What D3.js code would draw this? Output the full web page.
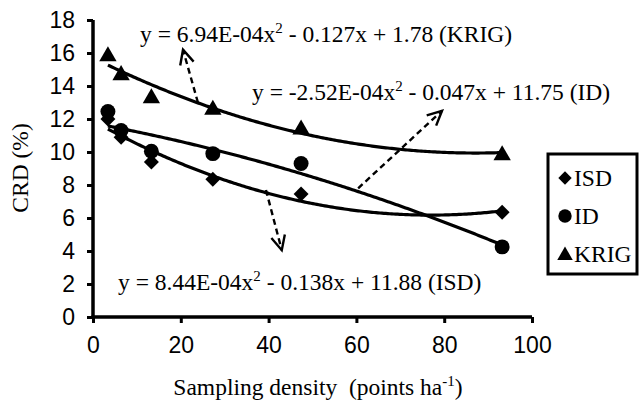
<!DOCTYPE html>
<html>
<head>
<meta charset="utf-8">
<script src="https://cdn.jsdelivr.net/npm/d3@7"></script>
<style>
  html, body { margin: 0; padding: 0; background: #fff; }
  svg { display: block; }
</style>
</head>
<body>
<svg id="chart" width="639" height="406"></svg>
<script>
// Sampling densities (points per hectare)
const density = [3.4, 6.4, 13.3, 27.3, 47.4, 93.2];
// CRD (%) for each interpolation method
const isd  = [12.0, 10.9, 9.4, 8.35, 7.45, 6.35];
const id   = [12.45, 11.3, 10.05, 9.9, 9.3, 4.25];
const krig = [15.9, 14.75, 13.35, 12.65, 11.45, 9.9];

const seriesNames = ["ISD", "ID", "KRIG"];
const xTicks = [0, 20, 40, 60, 80, 100];
const yTicks = [0, 2, 4, 6, 8, 10, 12, 14, 16, 18];

// Trendline equations shown on the chart
const eqKrig = ["y = 6.94E-04x", "2", " - 0.127x + 1.78 (KRIG)"];
const eqId   = ["y = -2.52E-04x", "2", " - 0.047x + 11.75 (ID)"];
const eqIsd  = ["y = 8.44E-04x", "2", " - 0.138x + 11.88 (ISD)"];

const svg = d3.select("#chart");
const x = d3.scaleLinear().domain([0, 100]).range([93, 532]);
const y = d3.scaleLinear().domain([0, 18]).range([317, 20]);

const sans = "'Liberation Sans', Arial, sans-serif";
const serif = "'Liberation Serif', 'Times New Roman', serif";
const textSize = 23.5;

// Least-squares quadratic fit y = a x^2 + b x + c
function quadFit(xs, ys) {
  let s = [0, 0, 0, 0, 0], t = [0, 0, 0];
  xs.forEach((xv, i) => {
    for (let k = 0; k < 5; k++) s[k] += Math.pow(xv, k);
    for (let k = 0; k < 3; k++) t[k] += ys[i] * Math.pow(xv, k);
  });
  const M = [[s[0], s[1], s[2], t[0]], [s[1], s[2], s[3], t[1]], [s[2], s[3], s[4], t[2]]];
  for (let i = 0; i < 3; i++) {
    for (let j = i + 1; j < 3; j++) {
      const f = M[j][i] / M[i][i];
      for (let k = i; k < 4; k++) M[j][k] -= f * M[i][k];
    }
  }
  const r = [0, 0, 0];
  for (let i = 2; i >= 0; i--) {
    let v = M[i][3];
    for (let k = i + 1; k < 3; k++) v -= M[i][k] * r[k];
    r[i] = v / M[i][i];
  }
  return xv => r[0] + r[1] * xv + r[2] * xv * xv;
}

// Marker shapes: diamond is a square turned 45 degrees
const shapes = {
  ISD:  { type: d3.symbolSquare, size: 112, rotate: 45, dy: 0 },
  ID:   { type: d3.symbolCircle, size: 175, rotate: 0, dy: 0 },
  KRIG: { type: d3.symbolTriangle, size: 130, rotate: 0, dy: 1.5 }
};
const series = [
  { name: "ISD", values: isd },
  { name: "ID", values: id },
  { name: "KRIG", values: krig }
];

// Trendlines
const line = d3.line().x(d => x(d[0])).y(d => y(d[1]));
const x0 = d3.min(density), x1 = d3.max(density);
series.forEach(s => {
  const f = quadFit(density, s.values);
  const pts = d3.range(0, 201).map(i => {
    const xv = x0 + (x1 - x0) * i / 200;
    return [xv, f(xv)];
  });
  svg.append("path").attr("d", line(pts))
    .attr("fill", "none").attr("stroke", "#000").attr("stroke-width", 3.2);
});

// Markers
series.forEach(s => {
  const sh = shapes[s.name];
  svg.append("g").selectAll("path").data(density).join("path")
    .attr("d", d3.symbol().type(sh.type).size(sh.size))
    .attr("transform", (d, i) => `translate(${x(d)},${y(s.values[i]) + sh.dy}) rotate(${sh.rotate})`)
    .attr("fill", "#000");
});

// Axes
const yAxis = d3.axisLeft(y).tickValues(yTicks).tickSize(6).tickPadding(12);
const xAxis = d3.axisBottom(x).tickValues(xTicks).tickSize(6).tickPadding(14);

const gy = svg.append("g").attr("transform", `translate(${x(0)},0)`).call(yAxis);
const gx = svg.append("g").attr("transform", `translate(0,${y(0)})`).call(xAxis);
gy.select(".domain").attr("d", `M0,${y(18)}V${y(0) + 1.5}`);
gx.select(".domain").attr("d", `M${x(0) - 1.5},0H${x(100)}`);
[gx, gy].forEach(g => {
  g.select(".domain").attr("stroke", "#000").attr("stroke-width", 3.5);
  g.selectAll(".tick line").attr("stroke", "#000").attr("stroke-width", 3);
  g.selectAll(".tick text").attr("font-family", sans).attr("font-size", 23).attr("fill", "#000");
});

// Axis titles
svg.append("text")
  .attr("transform", `translate(28,168) rotate(-90)`)
  .attr("text-anchor", "middle")
  .attr("font-family", serif).attr("font-size", textSize)
  .text("CRD (%)");

const xt = svg.append("text")
  .attr("x", 318).attr("y", 395)
  .attr("text-anchor", "middle")
  .attr("font-family", serif).attr("font-size", textSize)
  .style("white-space", "pre");
xt.append("tspan").text("Sampling density  (points ha");
xt.append("tspan").attr("dy", -9).attr("font-size", 15).text("-1");
xt.append("tspan").attr("dy", 9).text(")");

// Equation labels
function equation(parts, px, py) {
  const t = svg.append("text").attr("x", px).attr("y", py)
    .attr("font-family", serif).attr("font-size", textSize).attr("fill", "#000")
    .style("white-space", "pre");
  t.append("tspan").text(parts[0]);
  t.append("tspan").attr("dy", -9).attr("font-size", 15).text(parts[1]);
  t.append("tspan").attr("dy", 9).text(parts[2]);
}
equation(eqKrig, 140, 42);
equation(eqId, 252, 100);
equation(eqIsd, 118, 290);

// Dashed pointer arrows from each trendline to its equation
const arrows = [
  { from: [23.9, 13.0], to: [20.5, 16.2] },
  { from: [60.4, 7.8], to: [79.5, 12.5] },
  { from: [39.4, 7.7], to: [43.0, 4.05] }
];
arrows.forEach(a => {
  const fx = x(a.from[0]), fy = y(a.from[1]);
  const tx = x(a.to[0]), ty = y(a.to[1]);
  svg.append("line").attr("x1", fx).attr("y1", fy).attr("x2", tx).attr("y2", ty)
    .attr("stroke", "#000").attr("stroke-width", 2.4).attr("stroke-dasharray", "6,4");
  const ang = Math.atan2(fy - ty, fx - tx);
  const len = 16, spread = 0.45;
  const p1 = [tx + len * Math.cos(ang + spread), ty + len * Math.sin(ang + spread)];
  const p2 = [tx + len * Math.cos(ang - spread), ty + len * Math.sin(ang - spread)];
  svg.append("path").attr("d", `M${p1}L${tx},${ty}L${p2}`)
    .attr("fill", "none").attr("stroke", "#000").attr("stroke-width", 2.4);
});

// Legend
const lg = svg.append("g");
lg.append("rect").attr("x", 548).attr("y", 154).attr("width", 89).attr("height", 120)
  .attr("fill", "#fff").attr("stroke", "#000").attr("stroke-width", 3);
series.forEach((s, i) => {
  const cy = 178 + i * 38;
  const sh = shapes[s.name];
  lg.append("path")
    .attr("d", d3.symbol().type(sh.type).size(sh.size * 0.8))
    .attr("transform", `translate(565,${cy + sh.dy}) rotate(${sh.rotate})`)
    .attr("fill", "#000");
  lg.append("text").attr("x", 574).attr("y", cy + 8)
    .attr("font-family", serif).attr("font-size", textSize).text(s.name);
});
</script>
</body>
</html>
